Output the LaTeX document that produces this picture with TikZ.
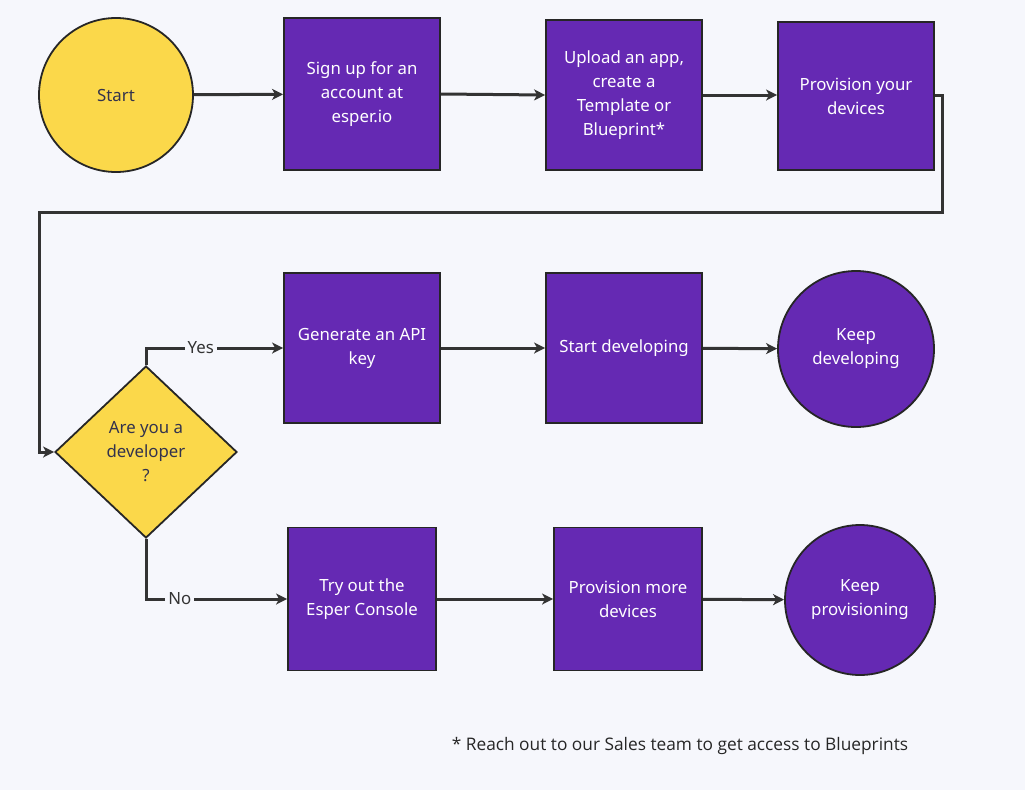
\documentclass[tikz,border=0pt]{standalone}
\usepackage{fontspec}
\setmainfont{Noto Sans}
\newfontfamily\notefont{Open Sans}
\usetikzlibrary{arrows.meta,shapes.geometric}
\definecolor{bgcol}{HTML}{F6F7FC}
\definecolor{espurple}{HTML}{6529B3}
\definecolor{esyellow}{HTML}{FBD84A}
\definecolor{linecol}{HTML}{333333}
\definecolor{darktext}{HTML}{33334D}
\tikzset{
	stepbox/.style={draw=black!85, line width=1.8pt, fill=espurple, text=white, align=center, font=\fontsize{16.8}{24}\selectfont, inner sep=2pt},
	endcirc/.style={circle, draw=black!85, line width=1.8pt, fill=espurple, text=white, align=center, font=\fontsize{16.8}{24}\selectfont},
	flow/.style={draw=linecol, line width=3pt, -{Stealth[length=11pt,width=11pt,inset=3pt]}},
	lbl/.style={fill=bgcol, text=linecol, font=\fontsize{16.8}{20}\selectfont, inner sep=3pt}
}
\begin{document}
\begin{tikzpicture}[x=1pt,y=-1pt]
	\fill[bgcol] (0,0) rectangle (1025,790);
	\useasboundingbox (0,0) rectangle (1025,790);
	% first row
	\node[circle, draw=black!85, line width=1.8pt, fill=esyellow, minimum size=154pt, font=\fontsize{16.8}{24}\selectfont, text=darktext] (start) at (116,95) {Start};
	\node[stepbox, minimum width=156pt, minimum height=152pt] (signup) at (362,94) {Sign up for an\\account at\\esper.io};
	\node[stepbox, minimum width=156pt, minimum height=150pt] (upload) at (624,95) {Upload an app,\\create a\\Template or\\Blueprint*};
	\node[stepbox, minimum width=156pt, minimum height=148pt] (provision) at (856,96) {Provision your\\devices};
	% decision
	\node[diamond, draw=black!85, line width=1.8pt, fill=esyellow, minimum width=182pt, minimum height=172pt, aspect=1.06, inner sep=0pt, align=center, text=darktext, font=\fontsize{16.8}{24}\selectfont] (dev) at (146,452) {Are you a\\developer\\?};
	% developer row
	\node[stepbox, minimum width=156pt, minimum height=150pt] (apikey) at (362,348) {Generate an API\\key};
	\node[stepbox, minimum width=156pt, minimum height=150pt] (startdev) at (624,348) {Start developing};
	\node[endcirc, minimum size=156pt] (keepdev) at (856,349) {Keep\\developing};
	% console row
	\node[stepbox, minimum width=148pt, minimum height=143pt] (console) at (362,599) {Try out the\\Esper Console};
	\node[stepbox, minimum width=148pt, minimum height=143pt] (more) at (628,599) {Provision more\\devices};
	\node[endcirc, minimum size=150pt] (keepprov) at (860,600) {Keep\\provisioning};
	% connectors
	\draw[flow] (start) -- (signup);
	\draw[flow] (signup.east) -- (upload.west);
	\draw[flow] (upload) -- (provision.west |- upload);
	\coordinate (turn) at (942,212);
	\draw[flow] (provision.east |- upload) -| (turn) -| (39,452) -- (dev.west);
	\draw[flow] (dev.north) |- node[lbl, pos=0.7] {Yes} (apikey.west);
	\draw[flow] (apikey.east) -- (startdev.west);
	\draw[flow] (startdev) -- (keepdev);
	\draw[flow] (dev.south) |- node[lbl, pos=0.62] {No} (console.west);
	\draw[flow] (console) -- (more);
	\draw[flow] (more) -- (keepprov);
	% note
	\node[font=\notefont\fontsize{17.3}{20}\selectfont, text=black!85] (note) at (680,746) {* Reach out to our Sales team to get access to Blueprints};
\end{tikzpicture}
\end{document}
